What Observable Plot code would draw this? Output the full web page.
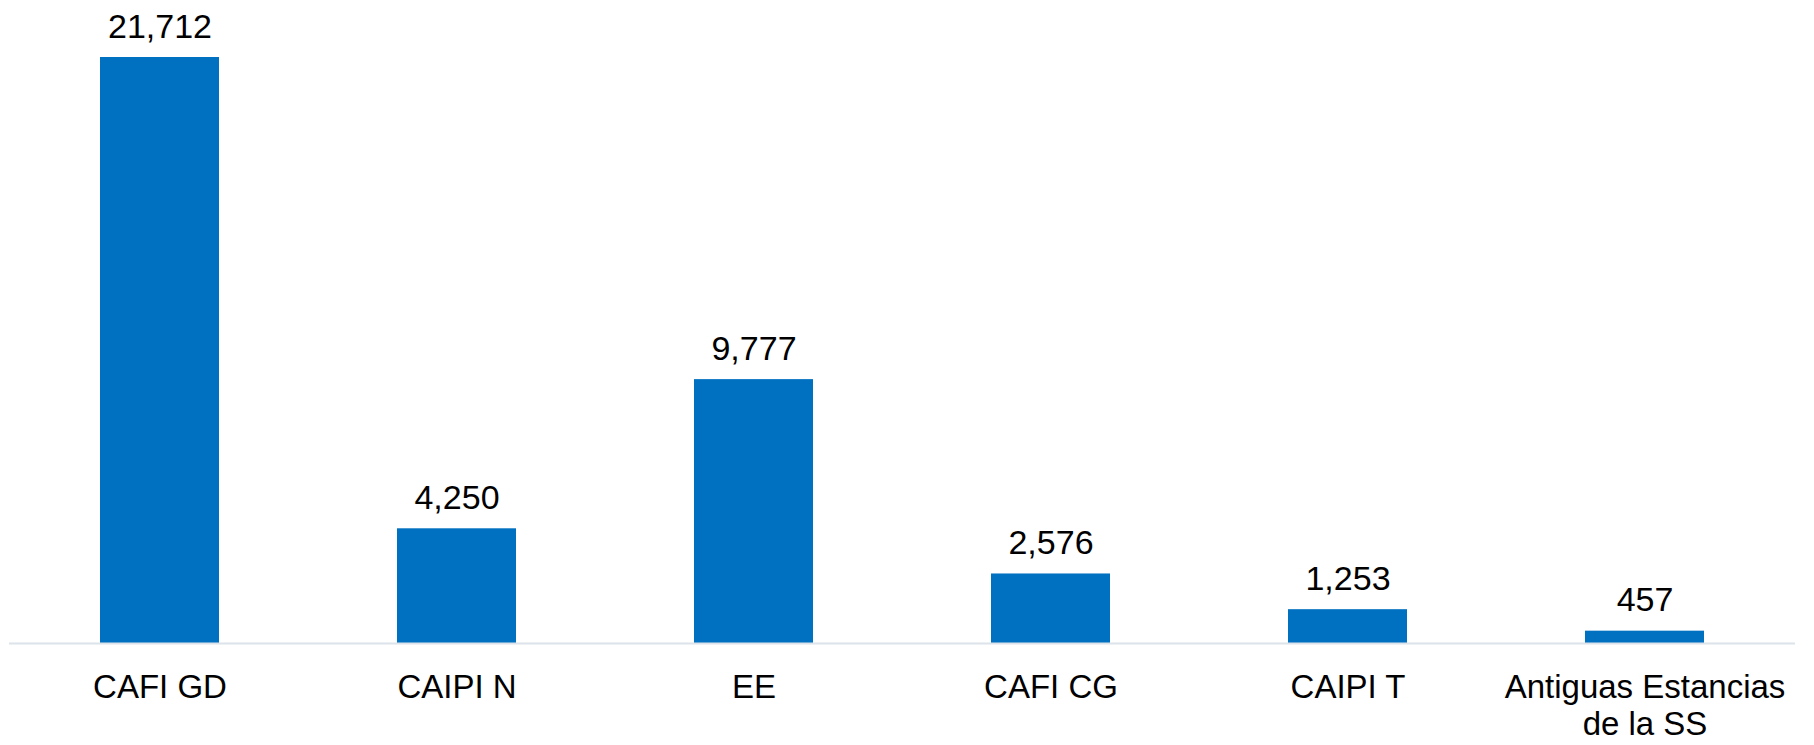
<!DOCTYPE html>
<html>
<head>
<meta charset="utf-8">
<script src="https://cdn.jsdelivr.net/npm/d3@7"></script>
<script src="https://cdn.jsdelivr.net/npm/@observablehq/plot@0.6"></script>
<style>
  html, body { margin: 0; padding: 0; background: #fff; }
</style>
</head>
<body>
<div id="chart"></div>
<script>
const categories = ["CAFI GD", "CAIPI N", "EE", "CAFI CG", "CAIPI T", "Antiguas Estancias\nde la SS"];
const values = [21712, 4250, 9777, 2576, 1253, 457];

const data = categories.map((c, i) => ({category: c, value: values[i]}));

const chart = Plot.plot({
  width: 1814,
  height: 745,
  marginLeft: 9,
  marginRight: 19,
  marginTop: 57,
  marginBottom: 102,
  style: {fontFamily: "'Liberation Sans', Arial, sans-serif", background: "#fff"},
  x: {domain: categories, paddingInner: 0.6, paddingOuter: 0.3, label: null},
  y: {domain: [0, 21712], axis: null},
  marks: [
    Plot.barY(data, {x: "category", y: "value", fill: "#0070C0"}),
    Plot.ruleY([0], {stroke: "#dde3ea", strokeWidth: 2}),
    Plot.text(data, {x: "category", y: "value", text: d => d3.format(",")(d.value), dy: -20, lineAnchor: "bottom", fontSize: 34, fill: "#000"}),
    Plot.axisX({tickSize: 0, tickPadding: 29, fontSize: 33, lineHeight: 1.1, color: "#000", label: null})
  ]
});
document.getElementById("chart").appendChild(chart);
</script>
</body>
</html>
